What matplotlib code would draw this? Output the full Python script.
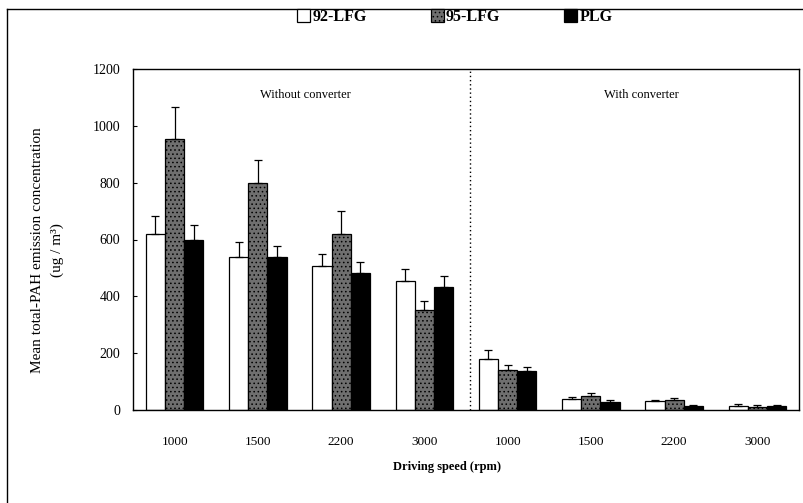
import matplotlib
matplotlib.use("Agg")
import matplotlib.pyplot as plt
import numpy as np
from matplotlib.lines import Line2D
from matplotlib.patches import Patch

plt.rcParams["font.family"] = ["Liberation Serif", "DejaVu Serif"]
plt.rcParams["hatch.linewidth"] = 0.6

speeds = ["1000", "1500", "2200", "3000", "1000", "1500", "2200", "3000"]
series_names = ["92-LFG", "95-LFG", "PLG"]

lfg92 = [620, 540, 505, 455, 180, 40, 30, 15]
lfg92_err = [62, 50, 45, 40, 30, 5, 5, 5]
lfg95 = [955, 800, 620, 352, 140, 50, 35, 12]
lfg95_err = [110, 80, 80, 33, 20, 10, 8, 6]
plg = [600, 540, 482, 432, 138, 28, 15, 14]
plg_err = [50, 37, 38, 38, 15, 7, 3, 4]

section_labels = ["Without converter", "With converter"]

fig = plt.figure(figsize=(8.04, 5.03), dpi=100)
ax = fig.add_axes([133 / 804, 1 - 410 / 503, 666 / 804, 341 / 503])

x = np.arange(len(speeds))
w = 0.23
styles = [
    dict(facecolor="white", edgecolor="black"),
    dict(facecolor="#6f6f6f", edgecolor="black", hatch="...."),
    dict(facecolor="black", edgecolor="black"),
]
data = [(lfg92, lfg92_err), (lfg95, lfg95_err), (plg, plg_err)]
for i, ((vals, errs), st) in enumerate(zip(data, styles)):
    pos = x + (i - 1) * w
    ax.bar(pos, vals, w, linewidth=0.9, **st)
    ax.errorbar(pos, vals, yerr=[np.zeros(len(errs)), errs], fmt="none",
                ecolor="black", elinewidth=0.9, capsize=3, capthick=0.9)

ax.set_xlim(-0.5, 7.5)
ax.set_ylim(0, 1200)
ax.set_yticks(range(0, 1201, 200))
ax.set_xticks(x)
ax.set_xticklabels(speeds)
ax.tick_params(axis="x", length=0, pad=19, labelsize=9.5)
ax.tick_params(axis="y", direction="in", length=3, pad=9, labelsize=10)
for s in ax.spines.values():
    s.set_linewidth(1.0)

ax.axvline(3.55, color="black", linestyle=(0, (1, 2)), linewidth=1.0)
ax.text(1.57, 1110, section_labels[0], ha="center", va="center", fontsize=9)
ax.text(5.61, 1110, section_labels[1], ha="center", va="center", fontsize=9)

ax.set_xlabel("Driving speed (rpm)", fontsize=9, fontweight="bold")
ax.xaxis.set_label_coords((447 - 133) / 666, -0.15)
ax.set_ylabel("Mean total-PAH emission concentration\n(ug / m³)", fontsize=11,
              linespacing=1.6)
ax.yaxis.set_label_coords((64 - 133) / 666, 0.47)

handles = [Patch(linewidth=0.9, **st) for st in styles]
fig.legend(handles, series_names, loc="center", bbox_to_anchor=(455 / 804, 1 - 17 / 503),
           ncol=3, frameon=False, handlelength=0.8, handleheight=0.8,
           handletextpad=0.15, columnspacing=4.0, prop={"weight": "bold", "size": 11.5})

fig.add_artist(Line2D([7 / 804, 7 / 804], [0, 1 - 9 / 503], transform=fig.transFigure,
                      color="black", linewidth=1.0))
fig.add_artist(Line2D([7 / 804, 1], [1 - 9 / 503, 1 - 9 / 503], transform=fig.transFigure,
                      color="black", linewidth=1.0))

fig.savefig("out.png", dpi=100)
